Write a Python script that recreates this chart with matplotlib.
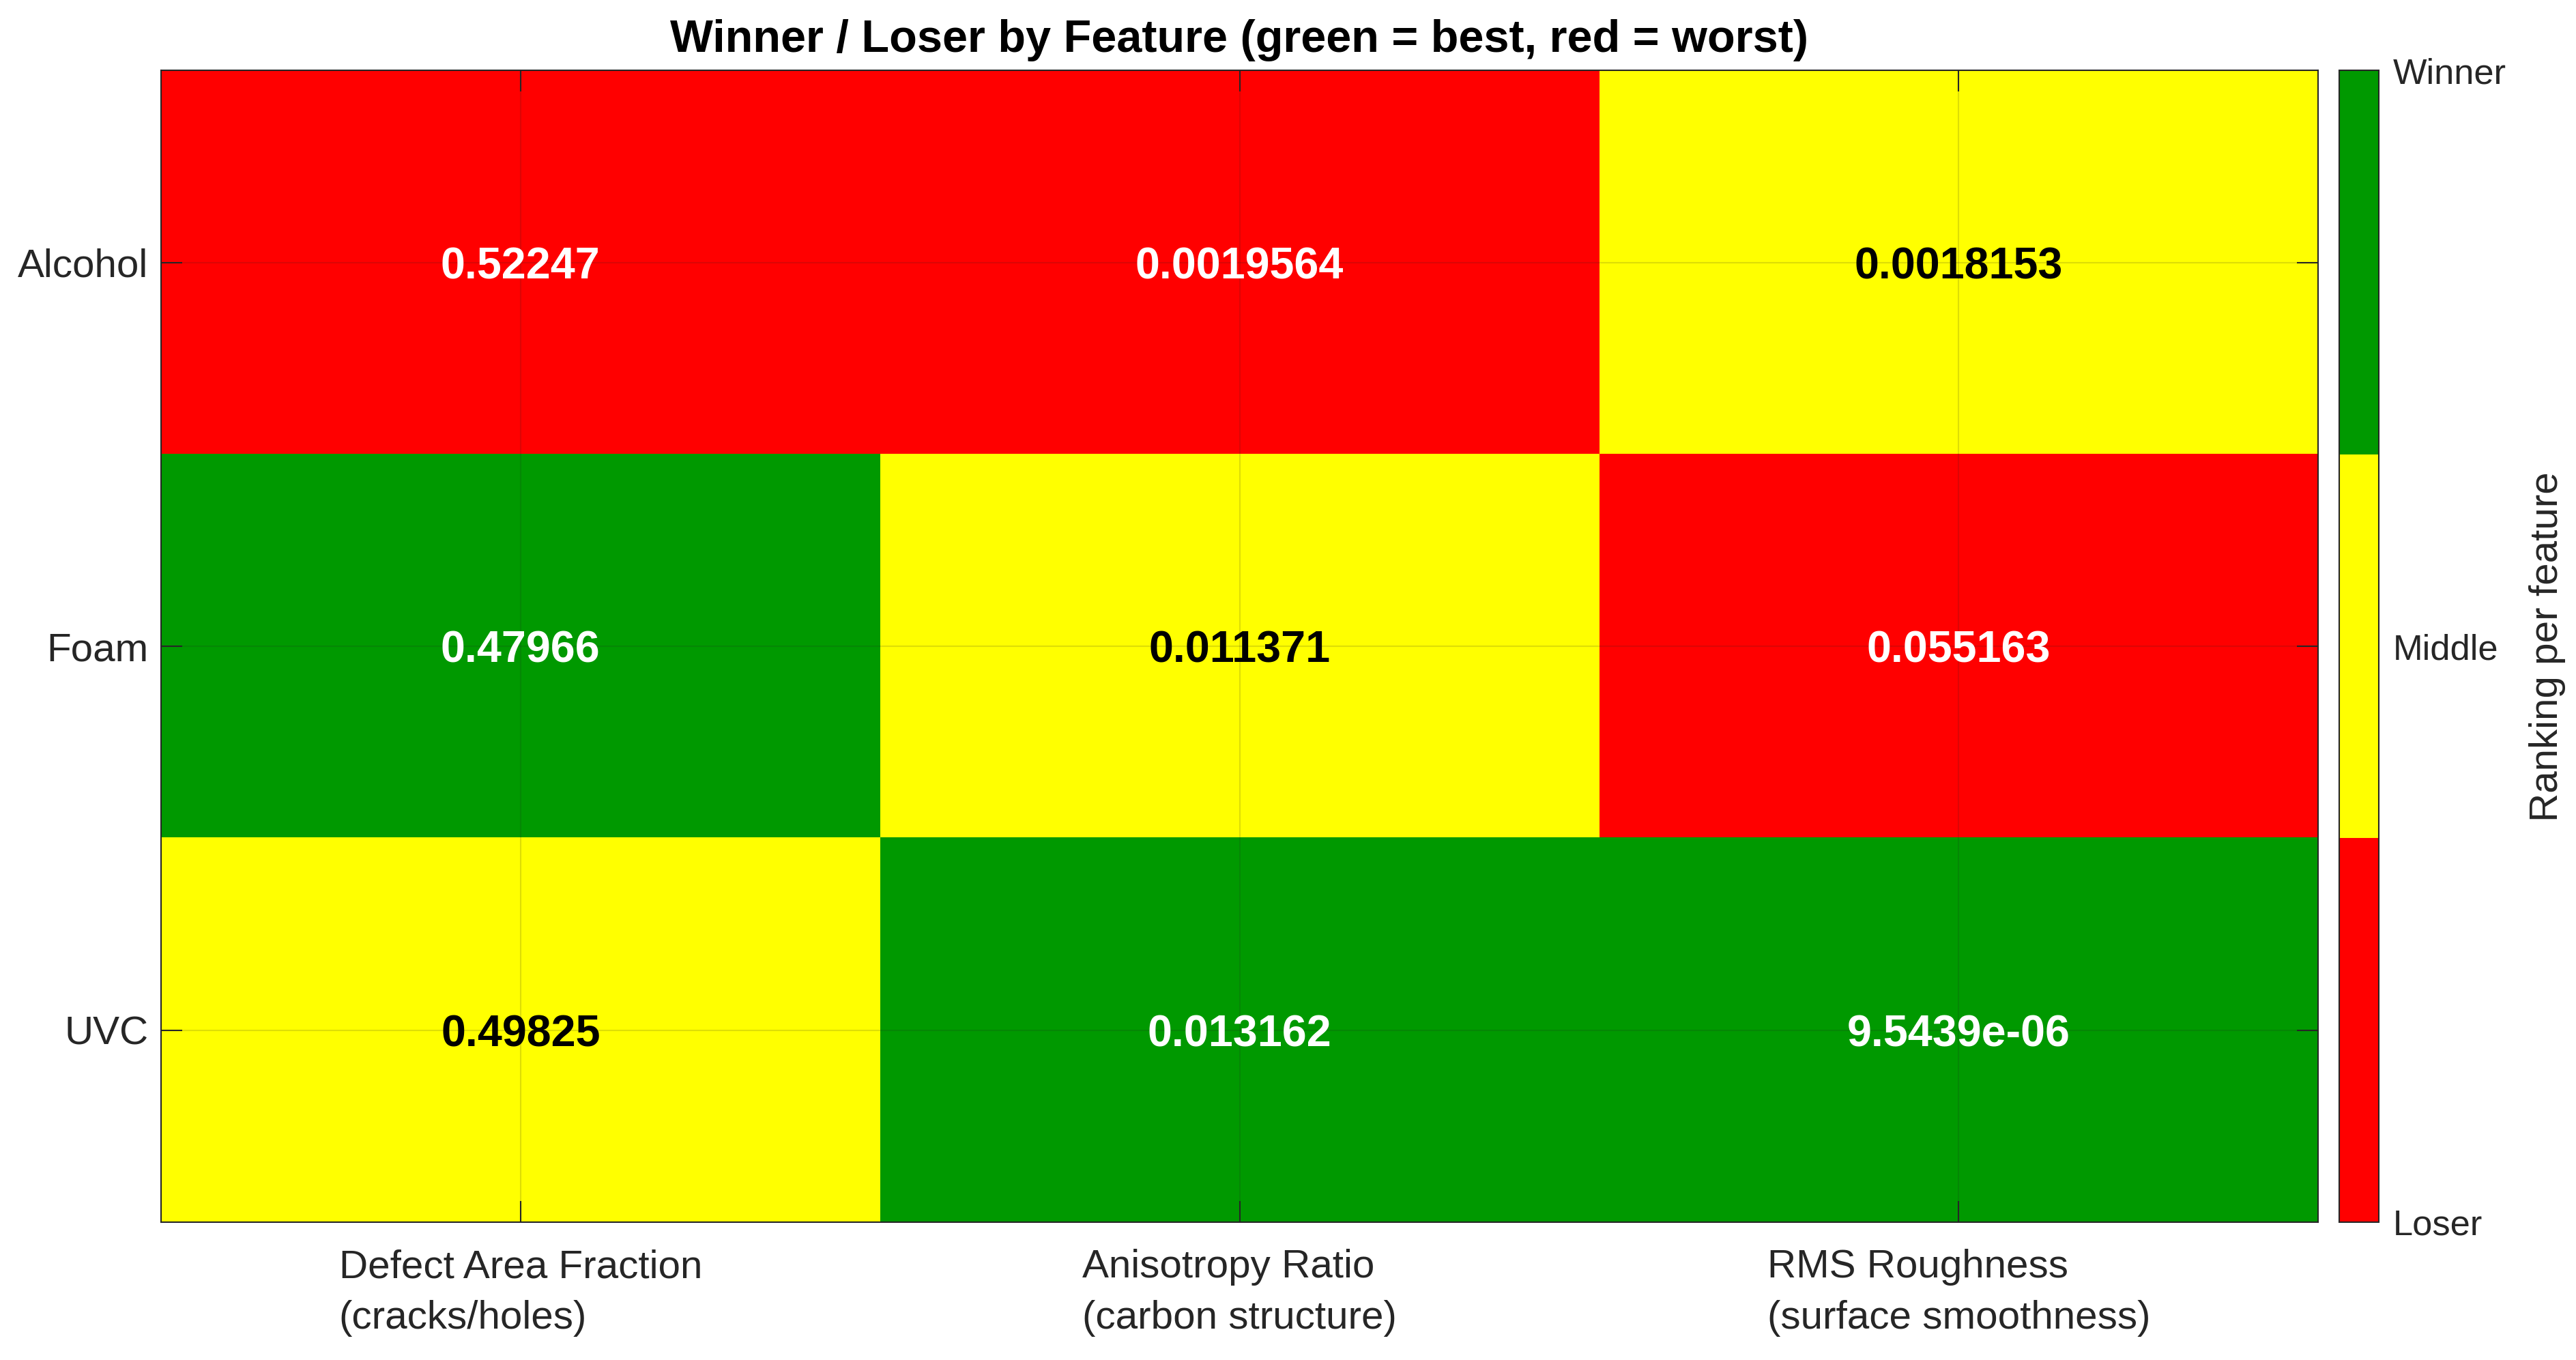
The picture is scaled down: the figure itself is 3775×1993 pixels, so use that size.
import numpy as np
import matplotlib
matplotlib.use("Agg")
import matplotlib.pyplot as plt
from matplotlib.colors import ListedColormap, Normalize

plt.rcParams['font.family'] = ['Liberation Sans', 'DejaVu Sans']

features = ["Defect Area Fraction\n(cracks/holes)",
            "Anisotropy Ratio\n(carbon structure)",
            "RMS Roughness\n(surface smoothness)"]
treatments = ["Alcohol", "Foam", "UVC"]

# raw feature values per treatment (rows) and feature (columns)
values_alcohol = [0.52247, 0.0019564, 0.0018153]
values_foam = [0.47966, 0.011371, 0.055163]
values_uvc = [0.49825, 0.013162, 9.5439e-06]

# 1 = loser, 2 = middle, 3 = winner
rank_alcohol = [1, 1, 2]
rank_foam = [3, 2, 1]
rank_uvc = [2, 3, 3]

rank_labels = ["Loser", "Middle", "Winner"]

values = np.array([values_alcohol, values_foam, values_uvc])
ranks = np.array([rank_alcohol, rank_foam, rank_uvc])

dark = (0.15, 0.15, 0.15)
cmap = ListedColormap(["#ff0000", "#ffff00", "#009900"])
norm = Normalize(vmin=1, vmax=3)

fig = plt.figure(figsize=(3775 / 300, 1993 / 300), dpi=300)
ax = fig.add_axes([0.0625, 0.1014, 0.8374, 0.8467])
cax = fig.add_axes([0.9081, 0.1014, 0.0154, 0.8467])

im = ax.imshow(ranks, cmap=cmap, norm=norm, aspect='auto', interpolation='nearest')

# cell labels
for i in range(ranks.shape[0]):
    for j in range(ranks.shape[1]):
        col = 'black' if ranks[i, j] == 2 else 'white'
        ax.text(j, i, '{:.5g}'.format(values[i, j]), ha='center', va='center_baseline',
                color=col, fontsize=15.5, fontweight='bold', zorder=4)

ax.set_xticks(range(len(features)))
ax.set_xticklabels(features, multialignment='left', linespacing=1.5)
ax.set_yticks(range(len(treatments)))
ax.set_yticklabels(treatments)
ax.tick_params(direction='in', length=7.5, width=0.5, color=dark, labelcolor=dark,
               labelsize=14, top=True, right=True)
ax.tick_params(axis='x', pad=9.5)
ax.tick_params(axis='y', pad=4.5)
ax.grid(True, color=dark, alpha=0.15, linewidth=0.5)
for s in ax.spines.values():
    s.set_linewidth(0.5)
    s.set_color(dark)

ax.set_title("Winner / Loser by Feature (green = best, red = worst)",
             fontsize=16, fontweight='bold', color='black', pad=6.5)

cb = fig.colorbar(im, cax=cax, ticks=[1, 2, 3])
cb.ax.set_yticklabels(rank_labels)
cb.ax.tick_params(length=0, labelsize=12.6, labelcolor=dark, pad=5)
cb.outline.set_linewidth(0.5)
cb.outline.set_edgecolor(dark)
cb.set_label("Ranking per feature", fontsize=14, color=dark, labelpad=8)

fig.savefig("out.png", dpi=300)
